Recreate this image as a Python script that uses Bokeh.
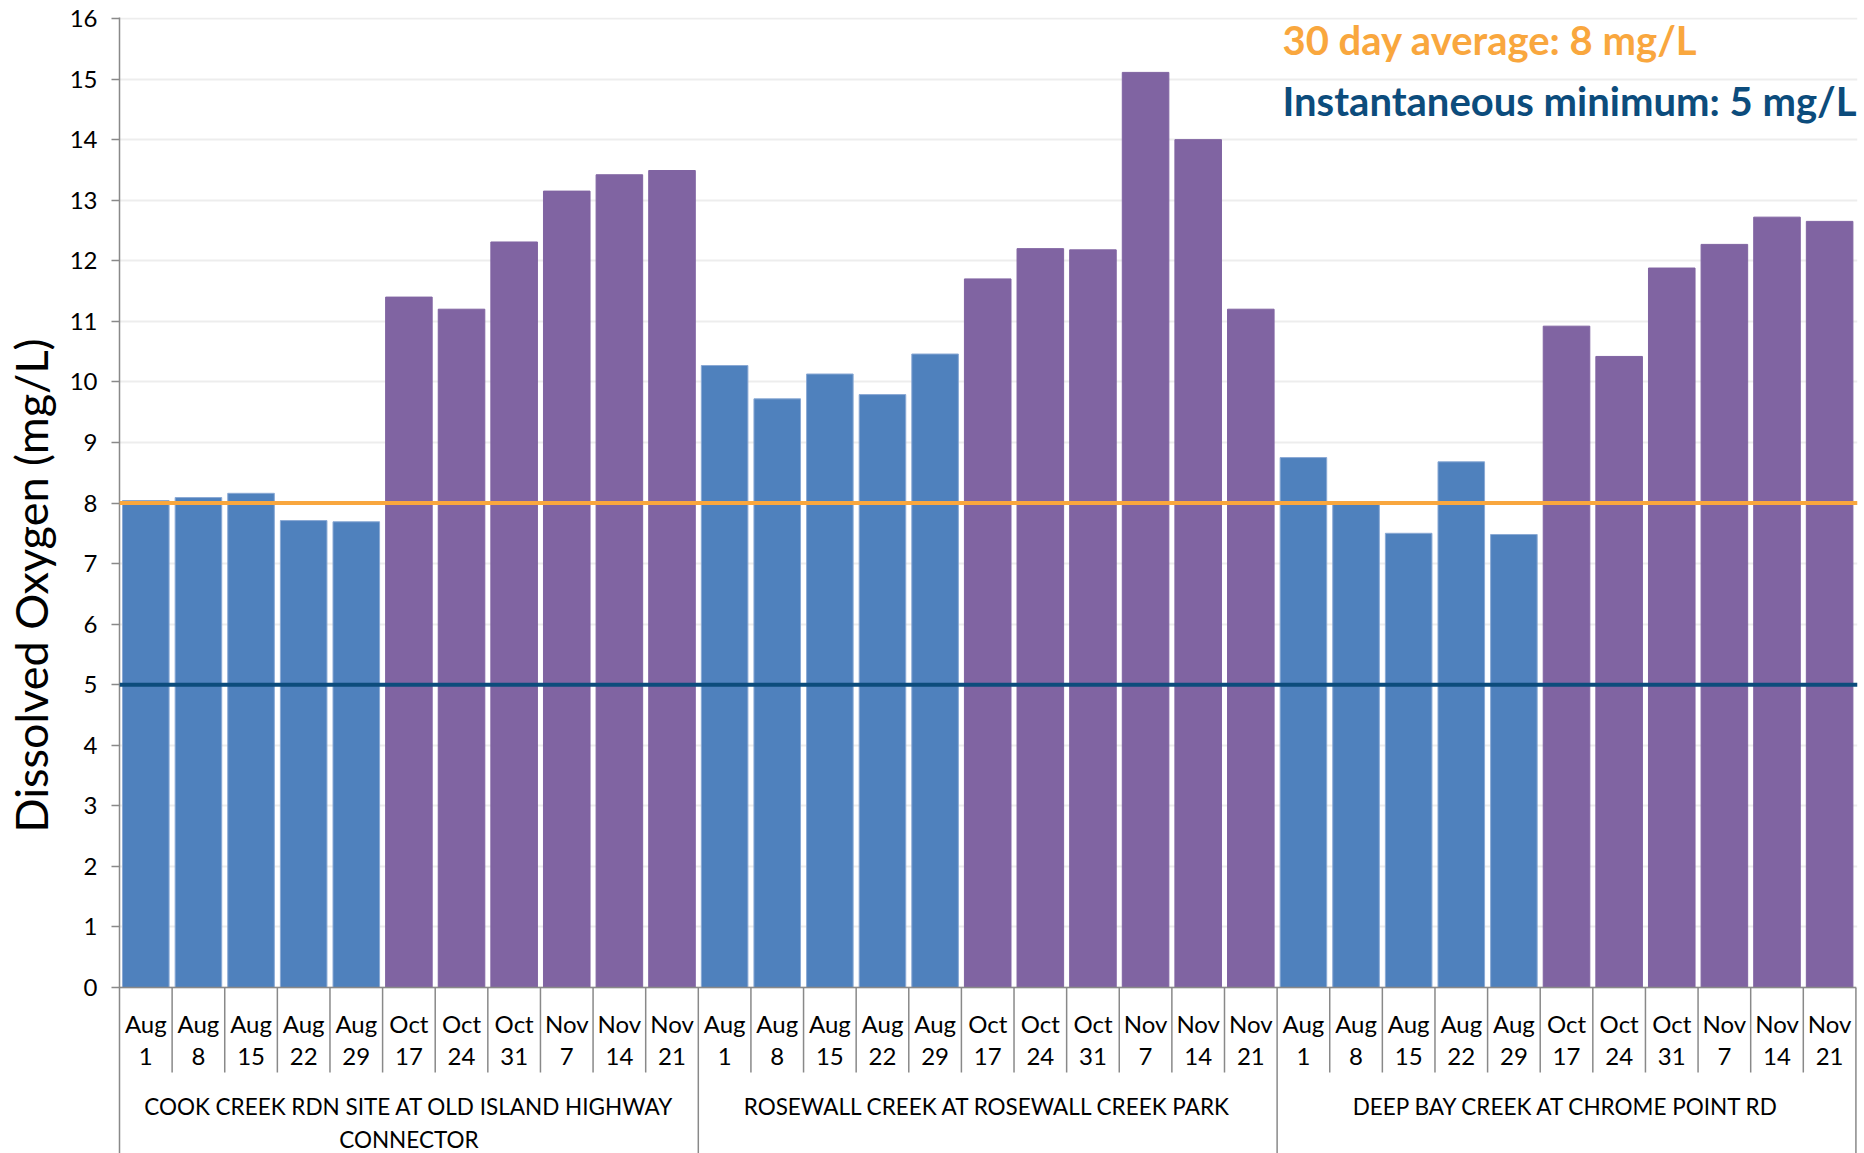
from bokeh.plotting import figure
from bokeh.models import Range1d, FixedTicker, Span, Label, ColumnDataSource
from bokeh.core.properties import value
from bokeh.embed import file_html
from bokeh.resources import INLINE

# ---------------- data ----------------
sites = [
    "COOK CREEK RDN SITE AT OLD ISLAND HIGHWAY|CONNECTOR",
    "ROSEWALL CREEK AT ROSEWALL CREEK PARK",
    "DEEP BAY CREEK AT CHROME POINT RD",
]
dates = ["Aug 1", "Aug 8", "Aug 15", "Aug 22", "Aug 29",
         "Oct 17", "Oct 24", "Oct 31", "Nov 7", "Nov 14", "Nov 21"]
cook_creek = [8.04, 8.09, 8.16, 7.71, 7.69, 11.40, 11.20, 12.31, 13.15, 13.42, 13.49]
rosewall_creek = [10.27, 9.72, 10.13, 9.79, 10.46, 11.70, 12.20, 12.18, 15.11, 14.00, 11.20]
deep_bay_creek = [8.75, 7.98, 7.50, 8.68, 7.48, 10.92, 10.42, 11.88, 12.27, 12.72, 12.65]
y_ticks = list(range(0, 17))
avg_30day = 8
inst_min = 5
avg_label = "30 day average: 8 mg/L"
min_label = "Instantaneous minimum: 5 mg/L"
y_title = "Dissolved Oxygen (mg/L)"

# ---------------- styling ----------------
FONT = "Lato"
BLUE = "#4F81BD"
BLUE_EDGE = "#8AA9D4"
PURPLE = "#8064A2"
PURPLE_EDGE = "#8064A2"
ORANGE = "#F9A73E"
NAVY = "#0C4C7C"
AXIS_GRAY = "#898989"

W, H = 1864, 1153
FRAME_L, FRAME_R = 119, 1857
Y_TOP_PX, Y_ZERO_PX = 18, 987

series = [cook_creek, rosewall_creek, deep_bay_creek]
n_cat = len(dates)
x, top, fill, edge, month, day = [], [], [], [], [], []
for g, vals in enumerate(series):
    for i, (d, v) in enumerate(zip(dates, vals)):
        x.append(g * n_cat + i + 0.5)
        top.append(v)
        m, dd = d.split(" ")
        month.append(m)
        day.append(dd)
        is_summer = m == "Aug"
        fill.append(BLUE if is_summer else PURPLE)
        edge.append(BLUE_EDGE if is_summer else PURPLE_EDGE)

total = len(x)
x_end = total + 0.03
px_per_unit = (Y_ZERO_PX - Y_TOP_PX) / 16.0
px_per_cat = (FRAME_R - FRAME_L) / x_end

def ypx(py):
    return -(py - Y_ZERO_PX) / px_per_unit

p = figure(width=W, height=H, output_backend="svg", toolbar_location=None,
           x_range=Range1d(0, x_end),
           y_range=Range1d(ypx(H), 16 + 1 / px_per_unit),
           x_axis_location=None, min_border_left=FRAME_L, min_border_right=W - FRAME_R,
           min_border_top=Y_TOP_PX - 1, min_border_bottom=0)
p.outline_line_color = None
p.background_fill_color = "white"
p.xgrid.visible = False
p.ygrid.ticker = FixedTicker(ticks=y_ticks)
p.ygrid.grid_line_color = "#EDEDED"
p.ygrid.grid_line_width = 2

yax = p.yaxis[0]
yax.ticker = FixedTicker(ticks=y_ticks)
yax.axis_line_color = AXIS_GRAY
yax.axis_line_width = 1.5
yax.major_tick_line_color = AXIS_GRAY
yax.major_tick_line_width = 1.5
yax.major_tick_out = 8
yax.major_tick_in = 0
yax.minor_tick_line_color = None
yax.major_label_text_font = FONT
yax.major_label_text_font_size = "24px"
yax.major_label_text_color = "#000000"
yax.major_label_standoff = 14
yax.axis_label = y_title
yax.axis_label_text_font = FONT
yax.axis_label_text_font_size = "45px"
yax.axis_label_text_font_style = "normal"
yax.axis_label_text_color = "#000000"
yax.axis_label_standoff = 9

src = ColumnDataSource(dict(x=x, top=top, fill=fill, edge=edge, month=month, day=day))
p.vbar(x="x", top="top", bottom=0, width=0.885, fill_color="fill", line_color="edge",
       line_width=1, source=src)

# horizontal axis line at 0
p.segment(x0=[0], y0=[0], x1=[total], y1=[0], line_color=AXIS_GRAY, line_width=1.5)

# category separators
cat_bottom = ypx(1072)
sep_x = [k for k in range(1, total) if k % n_cat != 0]
p.segment(x0=sep_x, y0=[0] * len(sep_x), x1=sep_x, y1=[cat_bottom] * len(sep_x),
          line_color=AXIS_GRAY, line_width=1.5)
grp_x = [k * n_cat for k in range(1, len(series) + 1)]
p.segment(x0=grp_x, y0=[0] * len(grp_x), x1=grp_x, y1=[ypx(H + 20)] * len(grp_x),
          line_color=AXIS_GRAY, line_width=1.5)

# category labels
p.text(x="x", y=ypx(1023), text="month", source=src,
       text_font=value(FONT), text_font_size="24px", text_align="center",
       text_baseline="middle", text_color="#000000")
p.text(x="x", y=ypx(1056), text="day", source=src,
       text_font=value(FONT), text_font_size="24px", text_align="center",
       text_baseline="middle", text_color="#000000")

# group labels
gx, gy, gt = [], [], []
for g, s in enumerate(sites):
    for li, line in enumerate(s.split("|")):
        gx.append(g * n_cat + n_cat / 2)
        gy.append(ypx(1106 + 33 * li))
        gt.append(line)
p.text(x=gx, y=gy, text=gt, text_font=value(FONT), text_font_size="22.5px",
       text_align="center", text_baseline="middle", text_color="#000000")

# reference lines
p.add_layout(Span(location=avg_30day, dimension="width", line_color=ORANGE, line_width=4))
p.add_layout(Span(location=inst_min, dimension="width", line_color=NAVY, line_width=4))

# annotation texts
text_x = (1282 - FRAME_L) / px_per_cat
p.add_layout(Label(x=text_x, y=16 - (39 - Y_TOP_PX) / px_per_unit, text=avg_label,
                   text_font=FONT, text_font_size="40px", text_font_style="bold",
                   text_color=ORANGE, text_baseline="middle", text_align="left"))
p.add_layout(Label(x=text_x, y=16 - (100 - Y_TOP_PX) / px_per_unit, text=min_label,
                   text_font=FONT, text_font_size="40px", text_font_style="bold",
                   text_color=NAVY, text_baseline="middle", text_align="left"))

open("out.html", "w").write(file_html(p, INLINE))
